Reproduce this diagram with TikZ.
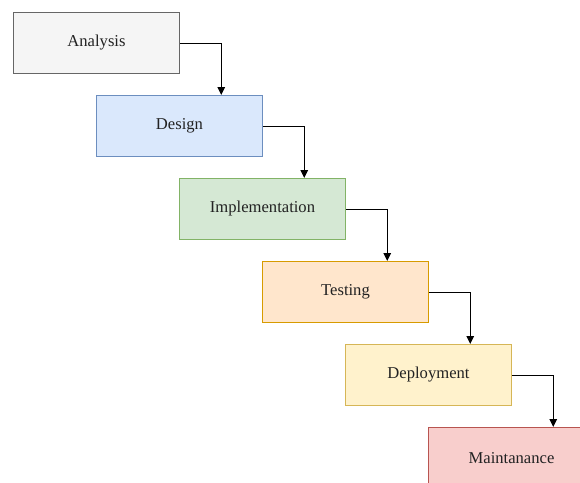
\documentclass[tikz,border=0pt]{standalone}
\usepackage{fontspec}
\setmainfont{Liberation Serif}
\usetikzlibrary{arrows.meta,calc}
\definecolor{gfill}{HTML}{F5F5F5}\definecolor{gdraw}{HTML}{666666}
\definecolor{bfill}{HTML}{DAE8FC}\definecolor{bdraw}{HTML}{6C8EBF}
\definecolor{grfill}{HTML}{D5E8D4}\definecolor{grdraw}{HTML}{82B366}
\definecolor{ofill}{HTML}{FFE6CC}\definecolor{odraw}{HTML}{D79B00}
\definecolor{yfill}{HTML}{FFF2CC}\definecolor{ydraw}{HTML}{D6B656}
\definecolor{rfill}{HTML}{F8CECC}\definecolor{rdraw}{HTML}{B85450}
\definecolor{txt}{HTML}{222222}
\tikzset{
  stagebox/.style={draw, line width=1pt, minimum width=166pt, minimum height=61pt, inner sep=0pt, font=\fontsize{16.6}{19}\selectfont, text=txt, anchor=north west},
  flow/.style={draw=black, line width=1pt, -{Triangle[length=8pt,width=7.5pt]}}
}
\begin{document}
\begin{tikzpicture}[x=1pt,y=-1pt]
\useasboundingbox (0,0) rectangle (580,482);
\clip (0,0) rectangle (580,482);
\fill[white] (0,0) rectangle (580,482);
\node[stagebox, fill=gfill, draw=gdraw] (a) at (13,12) {Analysis};
\node[stagebox, fill=bfill, draw=bdraw] (d) at (96,95) {Design};
\node[stagebox, fill=grfill, draw=grdraw] (i) at (179,178) {Implementation};
\node[stagebox, fill=ofill, draw=odraw] (t) at (262,261) {Testing};
\node[stagebox, fill=yfill, draw=ydraw] (p) at (345,344) {Deployment};
\node[stagebox, fill=rfill, draw=rdraw] (m) at (428,427) {Maintanance};
\draw[flow] (a.east) -| ($(d.north west)!0.75!(d.north east)$);
\draw[flow] (d.east) -| ($(i.north west)!0.75!(i.north east)$);
\draw[flow] (i.east) -| ($(t.north west)!0.75!(t.north east)$);
\draw[flow] (t.east) -| ($(p.north west)!0.75!(p.north east)$);
\draw[flow] (p.east) -| ($(m.north west)!0.75!(m.north east)$);
\end{tikzpicture}
\end{document}
